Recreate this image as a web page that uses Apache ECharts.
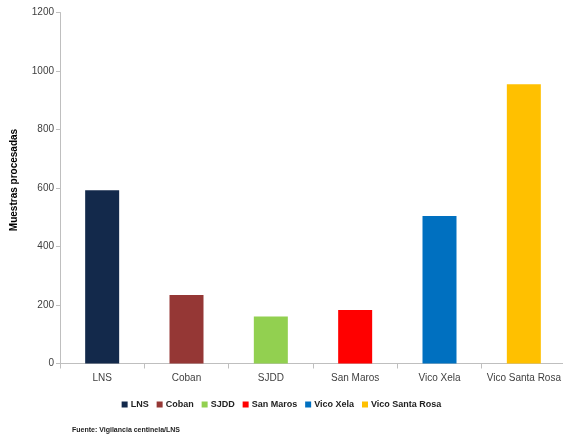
<!DOCTYPE html>
<html>
<head>
<meta charset="utf-8">
<script src="https://cdn.jsdelivr.net/npm/echarts@6/dist/echarts.min.js"></script>
<style>
  html, body { margin: 0; padding: 0; background: #fff; }
  #box { width: 563px; height: 439px; }
</style>
</head>
<body>
<div id="box"></div>
<script>
// datos
var categorias = ['LNS', 'Coban', 'SJDD', 'San Maros', 'Vico Xela', 'Vico Santa Rosa'];
var muestras = [592, 234, 161, 183, 504, 955];
var yTicks = [0, 200, 400, 600, 800, 1000, 1200];
var colores = ['#13294b', '#953735', '#92d050', '#ff0000', '#0070c0', '#ffc000'];

var fuente = "'Liberation Sans', Arial, sans-serif";

var myChart = echarts.init(document.getElementById('box'));

// una serie por categoría para que la leyenda muestre cada color
var series = categorias.map(function (nombre, i) {
    return {
        name: nombre,
        type: 'bar',
        stack: 'total',
        barWidth: 34,
        itemStyle: { color: colores[i] },
        data: categorias.map(function (c, j) { return j === i ? muestras[i] : '-'; })
    };
});

var option = {
    animation: false,
    grid: {
        left: 60,
        top: 12.5,
        width: 506,
        height: 351,
        containLabel: false,
        outerBoundsMode: 'none'
    },
    legend: {
        top: 395,
        left: 'center',
        itemWidth: 6,
        itemHeight: 6,
        itemGap: 8,
        icon: 'rect',
        textStyle: { fontFamily: fuente, fontSize: 9, fontWeight: 'bold', color: '#222', padding: [0, 0, 0, -2] },
        data: categorias
    },
    xAxis: {
        type: 'category',
        data: categorias,
        axisLine: { lineStyle: { color: '#bfbfbf' } },
        axisTick: { show: true, alignWithLabel: false, length: 5, lineStyle: { color: '#bfbfbf' } },
        axisLabel: { interval: 0, fontFamily: fuente, fontSize: 10, color: '#404040', margin: 10 }
    },
    yAxis: {
        type: 'value',
        min: yTicks[0],
        max: yTicks[yTicks.length - 1],
        interval: 200,
        axisLine: { show: true, lineStyle: { color: '#bfbfbf' } },
        axisTick: { show: true, length: 4, lineStyle: { color: '#bfbfbf' } },
        splitLine: { show: false },
        axisLabel: {
            fontFamily: fuente, fontSize: 10, color: '#404040', margin: 6,
            formatter: function (v) { return String(v); }
        }
    },
    graphic: [{
        // título del eje y
        type: 'text',
        x: 14,
        y: 180,
        rotation: Math.PI / 2,
        style: {
            text: 'Muestras procesadas',
            font: 'bold 10px ' + fuente,
            fill: '#000',
            align: 'center',
            verticalAlign: 'middle'
        }
    }, {
        type: 'text',
        left: 72,
        top: 427,
        style: {
            text: 'Fuente: Vigilancia centinela/LNS',
            font: 'bold 7px ' + fuente,
            fill: '#222'
        }
    }],
    series: series
};

myChart.setOption(option);
</script>
</body>
</html>
